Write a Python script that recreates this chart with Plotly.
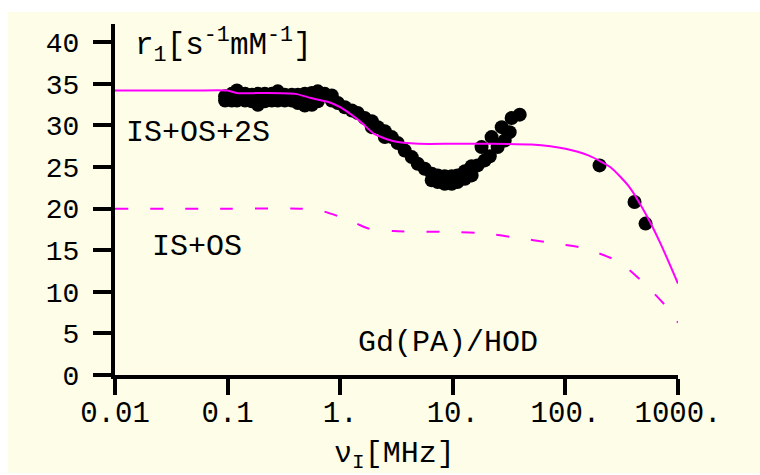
import plotly.graph_objects as go
import math

# ---- data ----
# fitted curve IS+OS+2S (solid)
freq_fit = [0.01, 0.05, 0.1, 0.12, 0.2, 0.4, 0.55, 0.8, 1.0, 1.5, 2.0, 3.0, 5.0, 10, 20, 50, 100, 160, 250, 370, 520, 700, 1000]
r1_fit = [34.2, 34.2, 34.2, 33.9, 33.9, 33.8, 33.3, 32.8, 32.2, 30.5, 29.0, 28.1, 27.8, 27.8, 27.8, 27.7, 27.2, 26.4, 25.0, 22.6, 19.3, 15.8, 11.0]

# contribution IS+OS (dashed)
freq_os = [0.01, 0.1, 0.45, 0.7, 1.0, 1.4, 1.8, 3.0, 10, 20, 37, 73, 140, 300, 520, 840, 1000]
r1_os = [20.0, 20.0, 20.0, 19.7, 19.0, 18.2, 17.6, 17.3, 17.2, 17.0, 16.5, 15.9, 15.3, 13.6, 10.8, 7.8, 6.3]

# measured relaxivities
freq_data = [0.095, 0.109, 0.121, 0.143, 0.164, 0.186, 0.214, 0.247, 0.279, 0.322, 0.372, 0.421, 0.485, 0.560, 0.632, 0.730,
             0.095, 0.109, 0.121, 0.143, 0.164, 0.186, 0.214, 0.247, 0.279, 0.322, 0.372, 0.421, 0.485, 0.560, 0.632,
             0.842, 0.842, 0.953, 1.10, 1.27, 1.43, 1.65, 1.91, 1.91, 2.16, 2.49, 2.49, 2.87, 3.24, 3.74, 4.32, 4.88, 5.63,
             6.50, 6.50, 7.35, 7.35, 8.47, 8.47, 9.78, 9.78, 11.0, 11.0, 12.8, 12.8, 14.7, 14.7,
             16.6, 18.0, 19.2, 21.3, 22.1, 25.0, 27.2, 28.9, 32.0, 33.3, 39.3,
             201, 411, 515]
r1_data = [33.5, 33.8, 34.2, 33.8, 33.7, 33.8, 33.8, 33.8, 34.1, 33.7, 33.7, 33.7, 33.8, 33.9, 34.1, 33.8,
           33.0, 33.0, 33.0, 33.0, 32.9, 32.5, 32.9, 33.0, 33.0, 33.0, 33.0, 32.7, 32.4, 32.5, 32.9,
           33.6, 33.0, 32.7, 32.2, 31.8, 31.5, 30.9, 30.5, 29.8, 29.8, 29.3, 28.6, 28.6, 27.9, 27.0, 26.2, 25.4, 24.8,
           24.2, 23.4, 24.0, 23.2, 23.9, 23.0, 23.9, 23.0, 24.0, 23.2, 24.5, 23.6, 25.1, 24.0,
           25.2, 27.4, 25.8, 26.3, 28.6, 27.4, 29.8, 28.2, 29.2, 30.9, 31.3,
           25.2, 20.8, 18.2]

x_tickvals = [0.01, 0.1, 1, 10, 100, 1000]
x_ticktext = ["0.01", "0.1", "1.", "10.", "100.", "1000."]
y_tickvals = [0, 5, 10, 15, 20, 25, 30, 35, 40]
y_ticktext = ["0", "5", "10", "15", "20", "25", "30", "35", "40"]

MAG = "#FF00FF"
CREAM = "#FDFDE8"
FONT = "Liberation Mono"

fig = go.Figure()
fig.add_trace(go.Scatter(x=freq_os, y=r1_os, mode="lines", line=dict(color=MAG, width=2, dash="13px,22px", shape="spline", smoothing=0.6), hoverinfo="skip"))
fig.add_trace(go.Scatter(x=freq_data, y=r1_data, mode="markers", marker=dict(color="black", size=14, line=dict(width=0))))
fig.add_trace(go.Scatter(x=freq_fit, y=r1_fit, mode="lines", line=dict(color=MAG, width=2, shape="spline", smoothing=0.6), hoverinfo="skip"))

L, R, T, B = 115, 82, 24, 100
W, H = 760, 475
pw, ph = W - L - R, H - T - B

def px(xp):
    return (xp - L) / pw

def py(yp):
    return (H - B - yp) / ph

fig.add_shape(type="rect", xref="paper", yref="paper", x0=px(8), x1=px(762), y0=py(473), y1=py(12),
              fillcolor=CREAM, line=dict(width=0), layer="below")

ann_font = dict(family=FONT, size=30, color="black")
fig.add_annotation(x=px(133), y=py(46), xref="paper", yref="paper", xanchor="left", yanchor="middle",
                   text="r<sub>1</sub>[s<sup>-1</sup>mM<sup>-1</sup>]", showarrow=False,
                   font=dict(family=FONT, size=31, color="black"))
fig.add_annotation(x=px(124), y=py(133), xref="paper", yref="paper", xanchor="left", yanchor="middle",
                   text="IS+OS+2S", showarrow=False, font=ann_font)
fig.add_annotation(x=px(150), y=py(247), xref="paper", yref="paper", xanchor="left", yanchor="middle",
                   text="IS+OS", showarrow=False, font=ann_font)
fig.add_annotation(x=px(356), y=py(343), xref="paper", yref="paper", xanchor="left", yanchor="middle",
                   text="Gd(PA)/HOD", showarrow=False, font=ann_font)
fig.add_annotation(x=px(394), y=py(455), xref="paper", yref="paper", xanchor="center", yanchor="middle",
                   text="ν<sub>I</sub>[MHz]", showarrow=False, font=ann_font)

fig.update_xaxes(type="log", range=[math.log10(0.01), math.log10(1000)], showline=True, linewidth=4, linecolor="black",
                 ticks="outside", ticklen=16, tickwidth=4, tickcolor="black", tickvals=x_tickvals, ticktext=x_ticktext,
                 ticklabelstandoff=-8,
                 showgrid=False, zeroline=False, tickfont=dict(family=FONT, size=29, color="black"))
fig.update_yaxes(range=[0, 42.2], showline=True, linewidth=4, linecolor="black",
                 ticks="outside", ticklen=18, tickwidth=4, tickcolor="black", tickvals=y_tickvals, ticktext=y_ticktext,
                 ticklabelstandoff=8,
                 showgrid=False, zeroline=False, tickfont=dict(family=FONT, size=28, color="black"))

fig.update_layout(width=W, height=H, margin=dict(l=L, r=R, t=T, b=B), showlegend=False,
                  paper_bgcolor="white", plot_bgcolor="rgba(0,0,0,0)")

fig.write_html("out.html", config={"displayModeBar": False},
               post_script="document.body.style.margin='0';document.body.style.overflow='hidden';")
